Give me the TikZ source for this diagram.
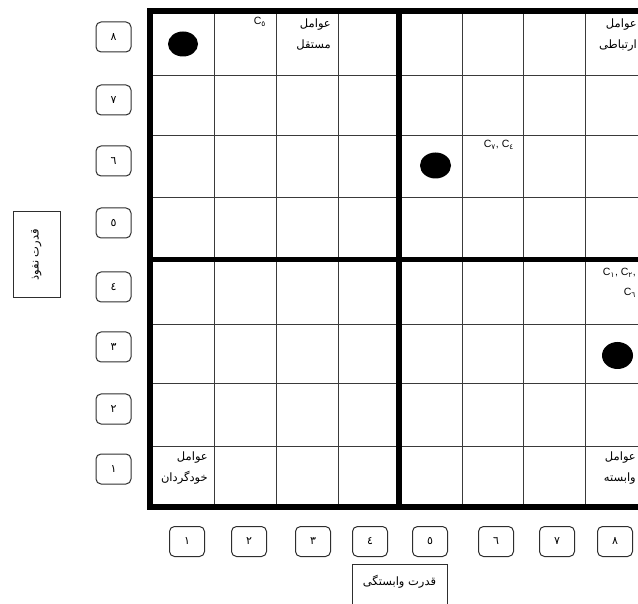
\documentclass[tikz,border=0pt]{standalone}
\usepackage{fontspec}
\setmainfont{Liberation Sans}
\newfontfamily\arabicfont[Script=Arabic]{DejaVu Sans}
\TeXXeTstate=1
\usetikzlibrary{positioning, shapes.geometric}

\definecolor{gridline}{HTML}{3A3A3A}
\definecolor{boxline}{HTML}{2E2E2E}

\begin{document}
\begin{tikzpicture}[x=1pt, y=-1pt,
  thinline/.style={gridline, line width=1pt},
  thickline/.style={black, line width=5.5pt},
  numbox/.style={draw=boxline, line width=1pt, rounded corners=5pt, minimum width=35pt, minimum height=30pt, inner sep=0pt, font=\fontsize{11}{11}\selectfont\arabicfont},
  axisbox/.style={draw=boxline, line width=1pt, inner sep=0pt, font=\fontsize{11.5}{12}\selectfont\arabicfont},
  note/.style={anchor=north east, align=right, inner sep=0pt, font=\fontsize{11.5}{21}\selectfont\arabicfont},
  clabel/.style={anchor=north east, align=right, inner sep=0pt, font=\fontsize{10.5}{20}\selectfont},
  blob/.style={ellipse, fill=black, inner sep=0pt, minimum width=30pt, minimum height=25pt}]

% Canvas
\useasboundingbox (0,0) rectangle (638,604);
\clip (0,0) rectangle (638,604);

% Thin grid lines
\foreach \x in {214,276,338,462,523,585}
  \draw[thinline] (\x,11) -- (\x,507);
\foreach \y in {76,136,198,325,384,446}
  \draw[thinline] (150,\y) -- (660,\y);

% Thick frame and quadrant lines
\draw[thickline] (660,11) -- (150,11) -- (150,507) -- (660,507);
\draw[thickline] (399,11) -- (399,507);
\draw[thickline] (150,259.5) -- (660,259.5);

% Row numbers (driving power)
\foreach \n/\y/\d in {1/469/١,2/409/٢,3/347/٣,4/287/٤,5/223/٥,6/161/٦,7/100/٧,8/37/٨}
  \node[numbox] (row\n) at (113.5,\y) {\d};

% Column numbers (dependence power)
\foreach \n/\x/\d in {1/187/١,2/249/٢,3/313/٣,4/370/٤,5/430/٥,6/496/٦,7/557/٧,8/615/٨}
  \node[numbox] (col\n) at (\x,541.5) {\d};

% Axis titles
\node[axisbox, rotate=90, minimum width=86pt, minimum height=47pt] (influence) at (36.5,255) {\beginR قدرت نفوذ\endR};
\node[axisbox, anchor=north, minimum width=95pt, inner ysep=11pt, text depth=30pt] (dependence) at (399.5,564) {\beginR قدرت وابستگی\endR};

% Factors
\node[blob] (dotA) at (183,44) {};
\node[blob, minimum width=31pt, minimum height=26pt] (dotB) at (435.5,165.5) {};
\node[blob, minimum width=31pt, minimum height=27pt] (dotC) at (617.5,355.5) {};

\node[clabel] (labA) at (266,17) {C\textsubscript{\arabicfont ٥}};
\node[clabel] (labB) at (514,140) {C\textsubscript{\arabicfont ٧}, C\textsubscript{\arabicfont ٤}};
\node[clabel] (labC) at (636,268) {C\textsubscript{\arabicfont ١}, C\textsubscript{\arabicfont ٢},\\C\textsubscript{\arabicfont ٦}};

% Cluster names
\node[note] (indep) at (331,19) {\beginR عوامل\endR\\\beginR مستقل\endR};
\node[note] (linkage) at (637,19) {\beginR عوامل\endR\\\beginR ارتباطی\endR};
\node[note] (auto) at (208,452) {\beginR عوامل\endR\\\beginR خودگردان\endR};
\node[note] (depend) at (636,452) {\beginR عوامل\endR\\\beginR وابسته\endR};

\end{tikzpicture}
\end{document}
